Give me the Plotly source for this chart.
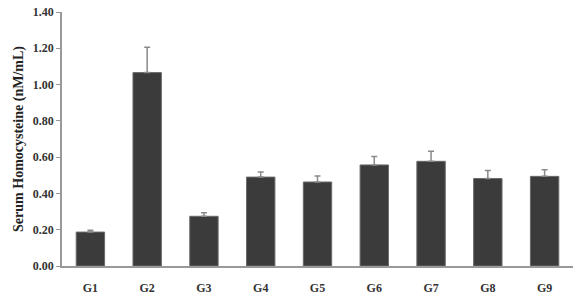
import plotly.graph_objects as go

groups = ["G1", "G2", "G3", "G4", "G5", "G6", "G7", "G8", "G9"]
means = [0.187, 1.066, 0.274, 0.490, 0.463, 0.557, 0.577, 0.482, 0.494]
errors = [0.010, 0.140, 0.020, 0.028, 0.033, 0.046, 0.055, 0.044, 0.037]
yticks = [0.0, 0.2, 0.4, 0.6, 0.8, 1.0, 1.2, 1.4]

fig = go.Figure(go.Bar(
    x=groups, y=means,
    marker=dict(color="#3b3b3b", line=dict(color="#6a6a6a", width=1)),
    error_y=dict(type="data", array=errors, arrayminus=[0]*len(errors),
                 symmetric=False, color="#8a8a8a", thickness=1.5, width=3),
    width=0.5,
))

font = "Liberation Serif, Times New Roman, serif"
fig.update_layout(
    width=580, height=299,
    margin=dict(l=62, r=7, t=12, b=33),
    plot_bgcolor="white", paper_bgcolor="white",
    showlegend=False,
    font=dict(family=font, color="#333"),
)
fig.update_xaxes(
    showline=True, linecolor="#999", linewidth=1.5,
    ticks="", ticklabelstandoff=10, automargin=False,
    tickfont=dict(family=font, size=12, color="#333", weight="bold"),
    range=[-0.5, 8.5],
)
fig.update_yaxes(
    range=[0, 1.4], tickvals=yticks, automargin=False,
    ticktext=[f"{v:.2f}" for v in yticks],
    showline=True, linecolor="#999", linewidth=1.5,
    ticks="outside", ticklen=4, tickcolor="#999",
    showgrid=False, zeroline=False,
    tickfont=dict(family=font, size=12, color="#333", weight="bold"),
    title=dict(text="Serum Homocysteine (nM/mL)",
               font=dict(family=font, size=14, color="#222", weight="bold"),
               standoff=6),
)
fig.write_html("out.html")
